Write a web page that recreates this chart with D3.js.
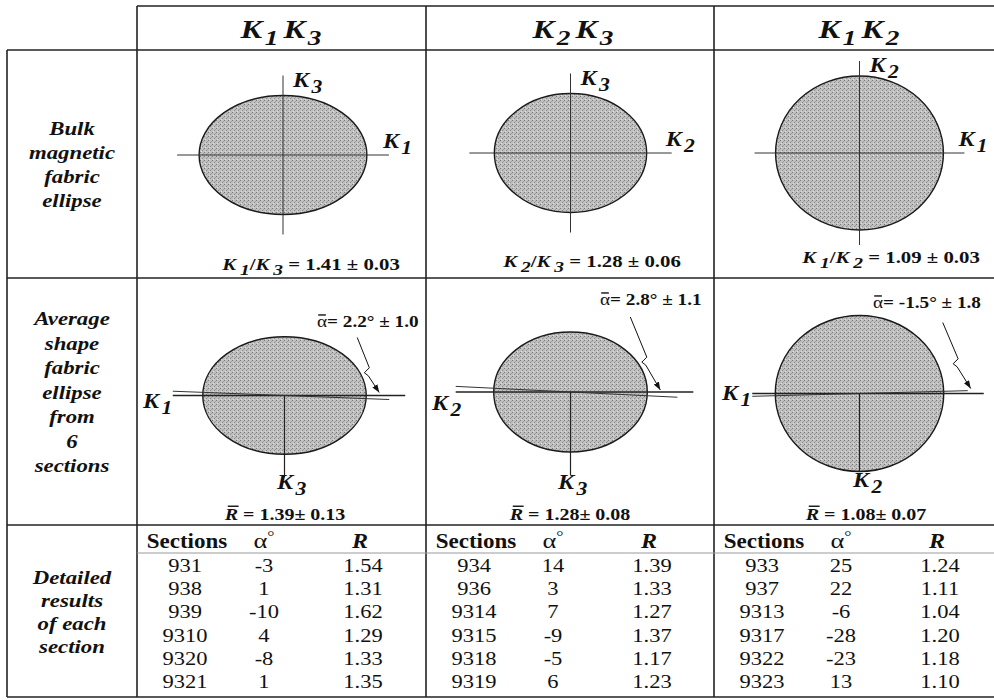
<!DOCTYPE html>
<html>
<head>
<meta charset="utf-8">
<script src="https://cdn.jsdelivr.net/npm/d3@7"></script>
<style>
  body { margin: 0; background: #fff; }
  svg { display: block; }
</style>
</head>
<body>
<svg width="994" height="700"></svg>
<script>
// --- data ---
const planes = [['1', '3'], ['2', '3'], ['1', '2']]
const bulkRatio = [1.41, 1.28, 1.09]
const bulkErr = [0.03, 0.06, 0.03]
const meanR = [1.39, 1.28, 1.08]
const meanRErr = [0.13, 0.08, 0.07]
const meanAlpha = [2.2, 2.8, -1.5]
const meanAlphaErr = [1.0, 1.1, 1.8]
const sectionIds = [
  ['931', '938', '939', '9310', '9320', '9321'],
  ['934', '936', '9314', '9315', '9318', '9319'],
  ['933', '937', '9313', '9317', '9322', '9323']
]
const sectionAlpha = [
  [-3, 1, -10, 4, -8, 1],
  [14, 3, 7, -9, -5, 6],
  [25, 22, -6, -28, -23, 13]
]
const sectionR = [
  ['1.54', '1.31', '1.62', '1.29', '1.33', '1.35'],
  ['1.39', '1.33', '1.27', '1.37', '1.17', '1.23'],
  ['1.24', '1.11', '1.04', '1.20', '1.18', '1.10']
]
const rowLabels = [
  ['Bulk', 'magnetic', 'fabric', 'ellipse'],
  ['Average', 'shape', 'fabric', 'ellipse', 'from', '6', 'sections'],
  ['Detailed', 'results', 'of each', 'section']
]
const tableHeads = ['Sections', 'α', 'R']

// --- layout ---
const FONT = "'Liberation Serif', 'Times New Roman', 'DejaVu Serif', serif"
const SX = 1.25
const colEdges = [137, 426, 714, 1002]
const rowY = { top: 6, head: 50, bulk: 278, shape: 525, sub: 553, bottom: 697 }
const bulkLayout = { cx: [283, 570.5, 859.5], cy: [155, 153, 153], unit: [59.5, 59.5, 77] }
const shapeLayout = { cx: [284.5, 570.5, 859.5], cy: [395.5, 392, 393.5], unit: [58.8, 60, 78] }

const svg = d3.select('svg')
const defs = svg.append('defs')

// stippled grey fill like the scanned ellipses
const pat = defs.append('pattern').attr('id', 'stipple')
  .attr('width', 4).attr('height', 4).attr('patternUnits', 'userSpaceOnUse')
pat.append('rect').attr('width', 4).attr('height', 4).attr('fill', '#c0c0c0')
pat.append('rect').attr('x', 0).attr('y', 0).attr('width', 1).attr('height', 1).attr('fill', '#767676')
pat.append('rect').attr('x', 2).attr('y', 2).attr('width', 1).attr('height', 1).attr('fill', '#8a8a8a')
pat.append('rect').attr('x', 3).attr('y', 1).attr('width', 1).attr('height', 1).attr('fill', '#a0a0a0')
pat.append('rect').attr('x', 1).attr('y', 3).attr('width', 1).attr('height', 1).attr('fill', '#e0e0e0')

defs.append('marker').attr('id', 'head')
  .attr('viewBox', '0 0 8 6').attr('refX', 8).attr('refY', 3)
  .attr('markerWidth', 8).attr('markerHeight', 6)
  .attr('markerUnits', 'userSpaceOnUse').attr('orient', 'auto')
  .append('path').attr('d', 'M0,0 L8,3 L0,6 z').attr('fill', '#111')

// text made of styled pieces; base = vertical offset from baseline (subscripts)
function rich(g, x, y, parts, o) {
  const grp = g.append('g').attr('transform', `translate(${x},${y}) scale(${o.sx || SX},1)`)
  const t = grp.append('text').attr('font-size', o.size)
    .attr('font-family', FONT).attr('fill', '#111')
    .attr('text-anchor', o.anchor || 'start')
    .attr('font-weight', o.bold ? 'bold' : 'normal')
    .attr('font-style', o.italic ? 'italic' : 'normal')
  let cur = 0
  parts.forEach(p => {
    const s = t.append('tspan').text(p.t)
    if (p.b !== undefined) s.attr('font-weight', p.b ? 'bold' : 'normal')
    if (p.i !== undefined) s.attr('font-style', p.i ? 'italic' : 'normal')
    if (p.fs) s.attr('font-size', p.fs)
    const base = p.base || 0
    if (base !== cur) { s.attr('dy', base - cur); cur = base }
    if (p.dx) s.attr('dx', p.dx)
  })
  return { grp, t }
}

// bar over one character (for R-bar and alpha-bar)
function overbar(r, idx, size, shift) {
  const e = r.t.node().getExtentOfChar(idx)
  r.grp.append('line')
    .attr('x1', e.x + 1 + (shift || 0)).attr('x2', e.x + e.width - 1 + (shift || 0))
    .attr('y1', -size * 0.86).attr('y2', -size * 0.86)
    .attr('stroke', '#111').attr('stroke-width', 1.4)
}

function K(n, size, sub) {
  return [{ t: 'K', b: true, i: true }, { t: n, b: true, i: true, fs: size, base: sub, dx: 2 }]
}

function line(g, x1, y1, x2, y2, w, c) {
  return g.append('line').attr('x1', x1).attr('y1', y1).attr('x2', x2).attr('y2', y2)
    .attr('stroke', c || '#222').attr('stroke-width', w || 1)
}

// --- grid ---
const grid = svg.append('g')
const W = colEdges[3]
line(grid, colEdges[0], rowY.top, W, rowY.top, 1.6)
line(grid, 7, rowY.head, W, rowY.head, 1.6)
line(grid, 7, rowY.bulk, W, rowY.bulk, 1.6)
line(grid, 7, rowY.shape, W, rowY.shape, 1.6)
line(grid, 7, rowY.bottom, W, rowY.bottom, 1.6)
line(grid, 7, rowY.head, 7, rowY.bottom, 1.6)
colEdges.slice(0, 3).forEach(x => line(grid, x, rowY.top, x, rowY.bottom, 1.6))
line(grid, colEdges[0], rowY.sub, W, rowY.sub, 1, '#9a9a9a')

// --- row labels ---
const labelStart = [135, 325, 584]
const labelStep = [24, 24.5, 23]
rowLabels.forEach((lines, r) => {
  lines.forEach((s, k) => {
    rich(svg, 72, labelStart[r] + k * labelStep[r], [{ t: s }],
      { size: 19, anchor: 'middle', bold: true, italic: true, sx: 1.2 })
  })
})

// --- column titles ---
const titleX = [281, 573, 859]
planes.forEach((p, i) => {
  rich(svg, titleX[i], 38, [
    { t: 'K', b: true, i: true },
    { t: p[0], b: true, i: true, fs: 21, base: 7, dx: 2 },
    { t: 'K', b: true, i: true, base: 0, dx: 4 },
    { t: p[1], b: true, i: true, fs: 21, base: 7, dx: 2 }
  ], { size: 25, anchor: 'middle', sx: 1.3 })
})

// --- bulk magnetic fabric ellipses ---
const hPadBulk = [22, 25, 21]
const vPadBulk = [20, 20, 15]
const ratioText = [
  { x: 311, y: 270 }, { x: 592, y: 267 }, { x: 891, y: 263 }
]
planes.forEach((p, i) => {
  const g = svg.append('g')
  const cx = bulkLayout.cx[i], cy = bulkLayout.cy[i], u = bulkLayout.unit[i]
  const x = d3.scaleLinear().domain([0, 1]).range([cx, cx + u])
  const y = d3.scaleLinear().domain([0, 1]).range([cy, cy - u])
  const rx = x(bulkRatio[i]) - x(0), ry = y(0) - y(1)
  g.append('ellipse').attr('cx', x(0)).attr('cy', y(0)).attr('rx', rx).attr('ry', ry)
    .attr('fill', 'url(#stipple)').attr('stroke', '#1a1a1a').attr('stroke-width', 1.4)
  const left = x(-bulkRatio[i]) - hPadBulk[i], right = x(bulkRatio[i]) + hPadBulk[i]
  const top = y(1) - vPadBulk[i], bot = y(-1) + vPadBulk[i]
  line(g, left, y(0), right, y(0), 1, '#333')
  line(g, x(0), top, x(0), bot, 1, '#333')
  rich(g, right - 6, y(0) - 7, K(p[0], 18, 6), { size: 20, sx: 1.2 })
  rich(g, x(0) + 10, top + 11, K(p[1], 18, 6), { size: 20, sx: 1.2 })
  rich(g, ratioText[i].x, ratioText[i].y, [
    { t: 'K', i: true }, { t: p[0], i: true, fs: 15, base: 5, dx: 3 },
    { t: '/', i: false, base: 0 }, { t: 'K', i: true }, { t: p[1], i: true, fs: 15, base: 5, dx: 3 },
    { t: ' = ' + d3.format('.2f')(bulkRatio[i]) + ' ± ' + d3.format('.2f')(bulkErr[i]), i: false, base: 0 }
  ], { size: 16, anchor: 'middle', bold: true, sx: 1.3 })
})

// --- average shape fabric ellipses ---
const hPadL = [30, 38, 23], hPadR = [39, 46, 40]
const leftLabel = [{ x: 143, y: 408 }, { x: 432, y: 410 }, { x: 722, y: 400 }]
const downLabel = [{ x: 277, y: 489 }, { x: 558, y: 489 }, { x: 853, y: 487 }]
const rbarText = [{ x: 285, y: 520 }, { x: 570, y: 520 }, { x: 866, y: 520 }]
const tip = [{ dx: 13, dy: -3 }, { dx: 13, dy: -2 }, { dx: 27, dy: -5 }]
const arrowStart = [[-22, -55], [-30, -73], [-28, -66]]
const annText = [{ x: 317, y: 327 }, { x: 600, y: 305 }, { x: 873, y: 308 }]
planes.forEach((p, i) => {
  const g = svg.append('g')
  const cx = shapeLayout.cx[i], cy = shapeLayout.cy[i], u = shapeLayout.unit[i]
  const x = d3.scaleLinear().domain([0, 1]).range([cx, cx + u])
  const y = d3.scaleLinear().domain([0, 1]).range([cy, cy - u])
  const rx = x(meanR[i]) - x(0), ry = y(0) - y(1)
  g.append('ellipse').attr('cx', x(0)).attr('cy', y(0)).attr('rx', rx).attr('ry', ry)
    .attr('fill', 'url(#stipple)').attr('stroke', '#1a1a1a').attr('stroke-width', 1.4)
  const left = x(-meanR[i]) - hPadL[i], right = x(meanR[i]) + hPadR[i]
  // reference axis and the mean long axis rotated by alpha-bar
  line(g, left, y(0), right, y(0), 1.3, '#222')
  const tan = Math.tan(meanAlpha[i] * Math.PI / 180)
  const r2 = right - 16
  line(g, left, y(0) + (left - cx) * tan, r2, y(0) + (r2 - cx) * tan, 1, '#333')
  line(g, x(0), y(0), x(0), y(-1) + (i === 2 ? 0 : 23), 1.2, '#222')
  rich(g, leftLabel[i].x, leftLabel[i].y, K(p[0], 18, 6), { size: 20, sx: 1.2 })
  rich(g, downLabel[i].x, downLabel[i].y, K(p[1], 18, 6), { size: 20, sx: 1.2 })
  const rb = rich(g, rbarText[i].x, rbarText[i].y, [
    { t: 'R', i: true }, { t: ' = ' + d3.format('.2f')(meanR[i]) + '± ' + d3.format('.2f')(meanRErr[i]) }
  ], { size: 16, anchor: 'middle', bold: true, sx: 1.25 })
  overbar(rb, 0, 16, 1.5)

  // annotation arrow with its little zigzag
  const tx = x(meanR[i]) + tip[i].dx, ty = y(0) + tip[i].dy
  const s = arrowStart[i]
  const m = [s[0] * 0.45, s[1] * 0.45]
  const pts = [s, m, [m[0] - 5, m[1] + 5], [m[0] - 1, m[1] + 8], [0, 0]].map(d => [tx + d[0], ty + d[1]])
  g.append('path').attr('d', d3.line()(pts)).attr('fill', 'none')
    .attr('stroke', '#111').attr('stroke-width', 1).attr('marker-end', 'url(#head)')
  const sign = meanAlpha[i] < 0 ? '-' : ''
  const ann = rich(g, annText[i].x, annText[i].y, [
    { t: 'α', b: false },
    { t: '= ' + sign + Math.abs(meanAlpha[i]).toFixed(1) + '° ± ' + meanAlphaErr[i].toFixed(1) }
  ], { size: 16, bold: true, sx: 1.2 })
  overbar(ann, 0, 14, 0)
})

// --- detailed results per section ---
const colOffset = d3.scaleOrdinal().domain(tableHeads).range([48, 127, 226])
const rowScale = d3.scalePoint().domain(d3.range(6)).range([572, 688])
planes.forEach((p, i) => {
  const g = svg.append('g')
  const x0 = colEdges[i]
  rich(g, x0 + colOffset('Sections') + 2, 548, [{ t: 'Sections' }], { size: 20, bold: true, anchor: 'middle', sx: 1.15 })
  rich(g, x0 + colOffset('α'), 548, [{ t: 'α' }, { t: '°', fs: 15, base: -7 }], { size: 22, anchor: 'middle', sx: 1.2 })
  rich(g, x0 + colOffset('R') - 3, 548, [{ t: 'R' }], { size: 20, bold: true, italic: true, anchor: 'middle', sx: 1.2 })
  sectionIds[i].forEach((id, k) => {
    const yy = rowScale(k)
    rich(g, x0 + colOffset('Sections'), yy, [{ t: id }], { size: 18, anchor: 'middle' })
    rich(g, x0 + colOffset('α'), yy, [{ t: String(sectionAlpha[i][k]) }], { size: 18, anchor: 'middle' })
    rich(g, x0 + colOffset('R'), yy, [{ t: sectionR[i][k] }], { size: 18, anchor: 'middle' })
  })
})
</script>
</body>
</html>
